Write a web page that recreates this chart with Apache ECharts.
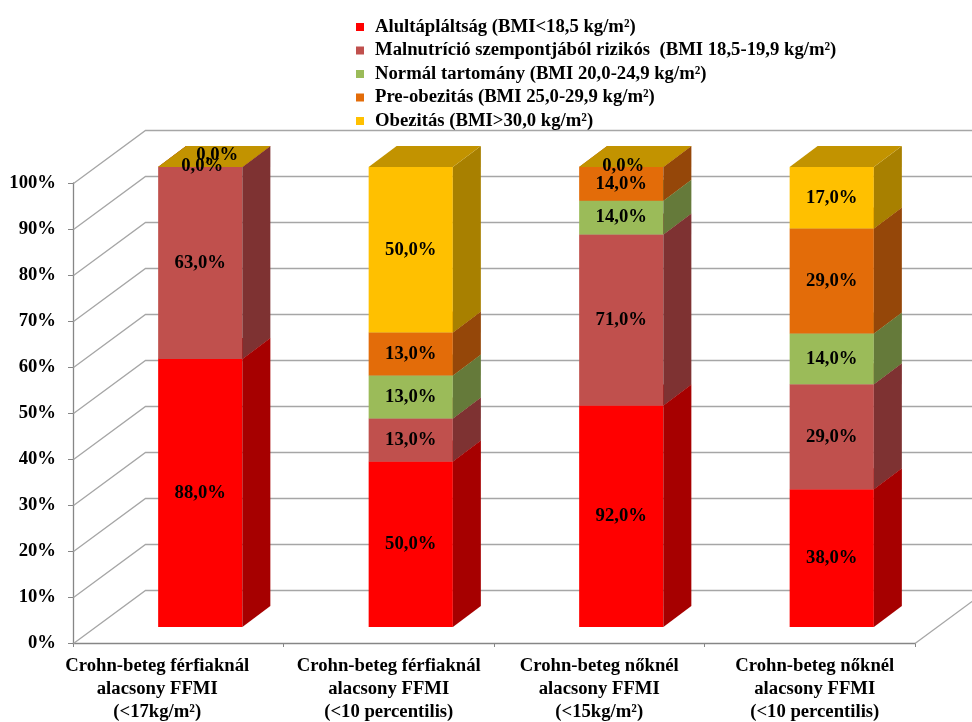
<!DOCTYPE html>
<html>
<head>
<meta charset="utf-8">
<script src="https://cdn.jsdelivr.net/npm/echarts@6/dist/echarts.min.js"></script>
<style>
  html, body { margin: 0; padding: 0; background: #ffffff; }
  #chart { width: 972px; height: 722px; }
</style>
</head>
<body>
<div id="chart"></div>
<script>
// Patient groups (x axis)
const categories = [
  'Crohn-beteg férfiaknál\nalacsony FFMI\n(<17kg/m²)',
  'Crohn-beteg férfiaknál\nalacsony FFMI\n(<10 percentilis)',
  'Crohn-beteg nőknél\nalacsony FFMI\n(<15kg/m²)',
  'Crohn-beteg nőknél\nalacsony FFMI\n(<10 percentilis)'
];

// BMI classes (legend)
const seriesNames = [
  'Alultápláltság (BMI<18,5 kg/m²)',
  'Malnutríció szempontjából rizikós  (BMI 18,5-19,9 kg/m²)',
  'Normál tartomány (BMI 20,0-24,9 kg/m²)',
  'Pre-obezitás (BMI 25,0-29,9 kg/m²)',
  'Obezitás (BMI>30,0 kg/m²)'
];

// Values per BMI class, one entry per patient group (null = no value)
const underweight = [88.0, 50.0, 92.0, 38.0];
const atRisk      = [63.0, 13.0, 71.0, 29.0];
const normalRange = [null, 13.0, 14.0, 14.0];
const preObese    = [0.0, 13.0, 14.0, 29.0];
const obese       = [0.0, 50.0, 0.0, 17.0];

// Value axis ticks (percent of the stacked column)
const yTicks = [0, 10, 20, 30, 40, 50, 60, 70, 80, 90, 100];

// Face colours of the 3D columns
const frontColors = ['#FF0000', '#C0504D', '#9BBB59', '#E36C09', '#FFC000'];
const sideColors  = ['#A60000', '#7E3232', '#657A3A', '#954709', '#A88000'];
const topColors   = ['#CC0000', '#9C4040', '#7D9748', '#B85808', '#C29300'];

const FONT = '"Liberation Serif", "Times New Roman", serif';
const FONT_SIZE = 18.7;
const GRID_COLOR = '#A6A6A6';
const AXIS_COLOR = '#868686';

// Oblique projection offsets (pixels)
const WALL_DEPTH = [72, -53];   // front plane -> back wall
const BAR_SHIFT  = [22, -16];   // front plane -> front face of columns
const BAR_DEPTH  = [28, -21];   // front face -> back face of a column

// Horizontal nudge of the category captions (left / right padding)
const captionPad = [[0, 42], [0, 0], [0, 0], [10, 0]];

// Build 100% stacked segments: [category, start%, end%, raw value, sits on a zero segment]
const allValues = [underweight, atRisk, normalRange, preObese, obese];
const totals = categories.map((_, c) =>
  allValues.reduce((sum, arr) => sum + (arr[c] == null ? 0 : arr[c]), 0));
const segments = allValues.map(() => []);
categories.forEach((_, c) => {
  let acc = 0;
  let prevZero = false;
  allValues.forEach((arr, s) => {
    const v = arr[c];
    if (v == null) return;
    const start = acc / totals[c] * 100;
    acc += v;
    const end = acc / totals[c] * 100;
    segments[s].push([c, start, end, v, prevZero ? 1 : 0]);
    prevZero = v === 0;
  });
});

function fmt(v) {
  return v.toFixed(1).replace('.', ',') + '%';
}

function columnRenderer(s) {
  return function (params, api) {
    const c = api.value(0);
    const v0 = api.value(1);
    const v1 = api.value(2);
    const raw = api.value(3);
    const onZero = api.value(4);
    const w = api.size([1, 0])[0] * 0.4;
    const pb = api.coord([c, v0]);
    const pt = api.coord([c, v1]);
    const xl = pb[0] - w / 2 + BAR_SHIFT[0];
    const xr = xl + w;
    const yb = pb[1] + BAR_SHIFT[1];
    const yt = pt[1] + BAR_SHIFT[1];
    const dx = BAR_DEPTH[0], dy = BAR_DEPTH[1];
    const children = [
      { type: 'polygon', z2: 1,
        shape: { points: [[xl, yb], [xr, yb], [xr, yt], [xl, yt]] },
        style: { fill: frontColors[s] } },
      { type: 'polygon', z2: 1,
        shape: { points: [[xr, yb], [xr + dx, yb + dy], [xr + dx, yt + dy], [xr, yt]] },
        style: { fill: sideColors[s] } },
      { type: 'polygon', z2: 1,
        shape: { points: [[xl, yt], [xr, yt], [xr + dx, yt + dy], [xl + dx, yt + dy]] },
        style: { fill: topColors[s] } }
    ];
    let lx = (xl + xr) / 2;
    let ly = (yb + yt) / 2;
    if (raw === 0) {
      if (onZero) { lx += 17; ly -= 12; } else { lx += 2; ly -= 1; }
    }
    children.push({
      type: 'text', z2: 100,
      style: {
        text: fmt(raw), x: lx, y: ly,
        align: 'center', verticalAlign: 'middle',
        font: 'bold ' + FONT_SIZE + 'px ' + FONT, fill: '#000000'
      }
    });
    return { type: 'group', children: children };
  };
}

// Back wall gridlines and floor edge
function wallRenderer(params, api) {
  const cs = params.coordSys;
  const v = api.value(1);
  const y = Math.round(api.coord([0, v])[1]) + 0.5;
  const dx = WALL_DEPTH[0], dy = WALL_DEPTH[1];
  const x0 = cs.x + 0.5;
  const x1 = cs.x + cs.width;
  const children = [{
    type: 'polyline',
    shape: { points: [[x0, y], [x0 + dx, y + dy], [x1 + dx, y + dy]] },
    style: { stroke: GRID_COLOR, lineWidth: 1.3, fill: null }
  }];
  if (v === yTicks[0]) {
    children.push({
      type: 'line',
      shape: { x1: x1, y1: y, x2: x1 + dx, y2: y + dy },
      style: { stroke: GRID_COLOR, lineWidth: 1.3 }
    });
  }
  return { type: 'group', children: children };
}

const chart = echarts.init(document.getElementById('chart'), null, { renderer: 'canvas' });

const columnSeries = seriesNames.map((name, s) => ({
  type: 'custom',
  name: name,
  z: 3,
  clip: false,
  renderItem: columnRenderer(s),
  encode: { x: 0, y: [1, 2] },
  itemStyle: { color: frontColors[s] },
  data: segments[s]
}));

const captionRich = {};
captionPad.forEach((p, i) => {
  captionRich['c' + i] = {
    fontFamily: FONT, fontWeight: 'bold', fontSize: FONT_SIZE, lineHeight: 23,
    color: '#000000', padding: [0, p[1], 0, p[0]]
  };
});

chart.setOption({
  animation: false,
  backgroundColor: '#ffffff',
  legend: {
    orient: 'vertical',
    left: 351,
    top: 12,
    itemWidth: 8,
    itemHeight: 8,
    itemGap: 3.5,
    icon: 'rect',
    data: seriesNames,
    textStyle: {
      fontFamily: FONT, fontWeight: 'bold', fontSize: FONT_SIZE,
      color: '#000000', lineHeight: 20, padding: [0, 0, 0, 6]
    }
  },
  grid: { left: 73, right: 57, top: 183, bottom: 74 },
  xAxis: {
    type: 'category',
    data: categories,
    axisLine: { show: true, lineStyle: { color: AXIS_COLOR, width: 1.3 } },
    axisTick: { show: true, length: 4, lineStyle: { color: AXIS_COLOR } },
    axisLabel: {
      interval: 0, margin: 12,
      formatter: function (value, index) {
        return value.split('\n').map(line => '{c' + index + '|' + line + '}').join('\n');
      },
      rich: captionRich
    },
    splitLine: { show: false }
  },
  yAxis: {
    type: 'value',
    min: yTicks[0],
    max: yTicks[yTicks.length - 1],
    interval: yTicks[1] - yTicks[0],
    axisLine: { show: true, lineStyle: { color: AXIS_COLOR, width: 1.3 } },
    axisTick: { show: true, length: 5, lineStyle: { color: AXIS_COLOR } },
    axisLabel: {
      formatter: '{value}%', margin: 17,
      fontFamily: FONT, fontWeight: 'bold', fontSize: FONT_SIZE, color: '#000000'
    },
    splitLine: { show: false }
  },
  series: [{
    type: 'custom',
    name: 'wall',
    z: 1,
    clip: false,
    silent: true,
    renderItem: wallRenderer,
    encode: { x: 0, y: 1 },
    data: yTicks.map(v => [0, v])
  }].concat(columnSeries)
});
</script>
</body>
</html>
